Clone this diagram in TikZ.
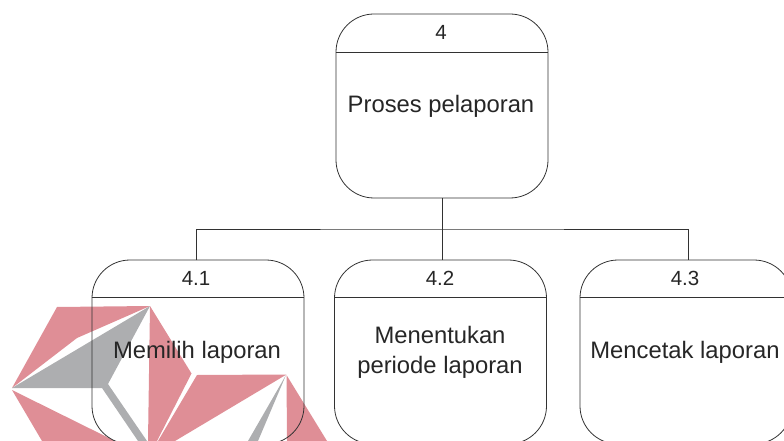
\documentclass[tikz,border=0pt]{standalone}
\usepackage{fontspec}
\setmainfont{Liberation Sans}
\usepackage{tikz}
\usetikzlibrary{positioning}
\definecolor{logopink}{RGB}{223,142,150}
\definecolor{logogray}{RGB}{173,174,176}
\definecolor{linegray}{RGB}{50,50,50}
\tikzstyle{proc}=[draw=linegray,rectangle,rounded corners=38pt,minimum width=212pt,minimum height=184pt,inner sep=0pt,line width=0.8pt]
\tikzstyle{num}=[inner sep=0pt,text=black!85,font=\fontsize{20.5}{20}\selectfont]
\tikzstyle{lbl}=[inner sep=0pt,align=center,text=black!85,font=\fontsize{23.8}{30}\selectfont]
\begin{document}
\begin{tikzpicture}
  [x=1pt,y=-1pt,line width=0.8pt]
  \useasboundingbox (0,0) rectangle (784,441);
  % logo
  \fill[logopink] (57,307) -- (150,306) -- (77,338) -- (12,388) -- cycle;
  \fill[logopink] (150,306) -- (191.5,373.5) -- (157,441) -- (148,441) -- cycle;
  \fill[logopink] (12,390) -- (115,441) -- (42,441) -- cycle;
  \fill[logopink] (197,375) -- (286.5,374.5) -- (175,441) -- (158,441) -- cycle;
  \fill[logopink] (286.5,375) -- (327,441) -- (287,441) -- cycle;
  \fill[logogray] (12,388) -- (150,306) -- (108,384) -- (147,441) -- (138,441) -- (102,388) -- cycle;
  \fill[logogray] (286,375) -- (258,441) -- (248,441) -- cycle;
  % boxes
  \node [proc] (n4) at (442,106) {};
  \node [proc] (n41) at (198,352) {};
  \node [proc] (n42) at (440.5,352) {};
  \node [proc] (n43) at (686,352) {};
  \node [num] (t4) at (441,32.5) {4};
  \node [num] (t41) at (196,278) {4.1};
  \node [num] (t42) at (440,278) {4.2};
  \node [num] (t43) at (685,278) {4.3};
  \node [lbl] (l4) at (441,106) {Proses pelaporan};
  \node [lbl] (l41) at (197,352) {Memilih laporan};
  \node [lbl] (l42) at (440,352) {Menentukan\\periode laporan};
  \node [lbl] (l43) at (685,352) {Mencetak laporan};
  % dividers
  \coordinate (d4) at (0,52);
  \coordinate (d41) at (0,297);
  \draw[linegray] (n4.west |- d4) -- (n4.east |- d4);
  \draw[linegray] (n41.west |- d41) -- (n41.east |- d41);
  \draw[linegray] (n42.west |- d41) -- (n42.east |- d41);
  \draw[linegray] (n43.west |- d41) -- (n43.east |- d41);
  % connectors
  \coordinate (j) at (442,229);
  \coordinate (j1) at (196,260);
  \coordinate (j3) at (688,260);
  \draw[linegray] (n4.south) -- (j);
  \draw[linegray] (j) -- (j |- n42.north);
  \draw[linegray] (j1) |- (j) -| (j3);
\end{tikzpicture}
\end{document}
